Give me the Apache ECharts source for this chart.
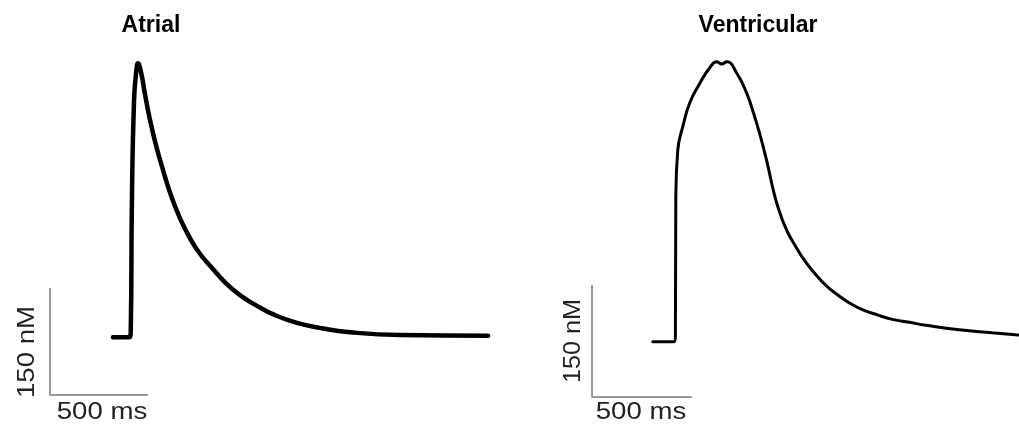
<!DOCTYPE html>
<html>
<head>
<meta charset="utf-8">
<script src="https://cdn.jsdelivr.net/npm/echarts@6/dist/echarts.min.js"></script>
<style>
  html, body { margin: 0; padding: 0; background: #fff; }
  #chart { width: 1019px; height: 424px; }
</style>
</head>
<body>
<div id="chart"></div>
<script>
  // time in ms, [Ca2+] in nM
  const atrialTime = [321, 405, 412, 418, 429, 440, 449, 464, 485, 510, 541, 577, 617, 663, 714, 765, 827, 893, 969, 1056, 1148, 1260, 1378, 1531, 1786, 2235];
  const atrialCa   = [81, 81, 90, 273, 414, 453, 465, 453, 421, 386, 350, 315, 280, 248, 220, 198, 178, 158, 140, 125, 112, 101, 94, 88, 84, 83];

  const ventTime = [305, 410, 418, 420, 430, 455, 490, 540, 590, 625, 650, 675, 725, 775, 805, 840, 875, 915, 945, 980, 1020, 1065, 1115, 1170, 1230, 1290, 1355, 1430, 1505, 1590, 1675, 1840, 2005, 2135];
  const ventCa   = [74, 74, 85, 264, 331, 362, 394, 420, 441, 449, 446, 449, 434, 407, 384, 353, 317, 270, 244, 221, 202, 183, 166, 150, 137, 126, 117, 110, 104, 100, 96, 90, 86, 83];

  // scale bars: 150 nM and 500 ms
  const scaleBar = [[0, 150], [0, 0], [500, 0]];

  const titles = ['Atrial', 'Ventricular'];

  function zip(xs, ys) {
    return xs.map((x, i) => [x, ys[i]]);
  }

  let myChart = echarts.init(document.getElementById('chart'));

  const hiddenAxis = { type: 'value', show: false };
  const labelFont = '24px "Liberation Sans", Arial';
  const titleFont = 'bold 23px "Liberation Sans", Arial';

  myChart.setOption({
    animation: false,
    grid: [
      { left: 50, width: 441, top: 52.6, height: 342.4 },
      { left: 592, width: 428, top: 38.6, height: 358.4 }
    ],
    xAxis: [
      Object.assign({ gridIndex: 0, min: 0, max: 2250 }, hiddenAxis),
      Object.assign({ gridIndex: 1, min: 0, max: 2140 }, hiddenAxis)
    ],
    yAxis: [
      Object.assign({ gridIndex: 0, min: 0, max: 480 }, hiddenAxis),
      Object.assign({ gridIndex: 1, min: 0, max: 480 }, hiddenAxis)
    ],
    series: [
      {
        name: titles[0], type: 'line', xAxisIndex: 0, yAxisIndex: 0,
        data: zip(atrialTime, atrialCa), smooth: 0.5, symbol: 'none',
        lineStyle: { color: '#000', width: 4.5, join: 'round', cap: 'round' }
      },
      {
        name: titles[1], type: 'line', xAxisIndex: 1, yAxisIndex: 1,
        data: zip(ventTime, ventCa), smooth: 0.5, symbol: 'none',
        lineStyle: { color: '#000', width: 3, join: 'round', cap: 'round' }
      },
      {
        type: 'line', xAxisIndex: 0, yAxisIndex: 0, data: scaleBar,
        symbol: 'none', lineStyle: { color: '#999', width: 2 }
      },
      {
        type: 'line', xAxisIndex: 1, yAxisIndex: 1, data: scaleBar,
        symbol: 'none', lineStyle: { color: '#999', width: 2 }
      }
    ],
    graphic: [
      { type: 'text', x: 151, y: 26, style: { text: titles[0], font: titleFont, fill: '#000', align: 'center', verticalAlign: 'middle' } },
      { type: 'text', x: 758, y: 26, style: { text: titles[1], font: titleFont, fill: '#000', align: 'center', verticalAlign: 'middle' } },
      { type: 'text', x: 102, y: 412, scaleX: 1.15, style: { text: '500 ms', font: labelFont, fill: '#222', align: 'center', verticalAlign: 'middle' } },
      { type: 'text', x: 641, y: 412, scaleX: 1.15, style: { text: '500 ms', font: labelFont, fill: '#222', align: 'center', verticalAlign: 'middle' } },
      { type: 'text', x: 27, y: 352, rotation: Math.PI / 2, scaleX: 1.15, style: { text: '150 nM', font: labelFont, fill: '#222', align: 'center', verticalAlign: 'middle' } },
      { type: 'text', x: 573, y: 341, rotation: Math.PI / 2, scaleX: 1.05, style: { text: '150 nM', font: labelFont, fill: '#222', align: 'center', verticalAlign: 'middle' } }
    ]
  });
</script>
</body>
</html>
